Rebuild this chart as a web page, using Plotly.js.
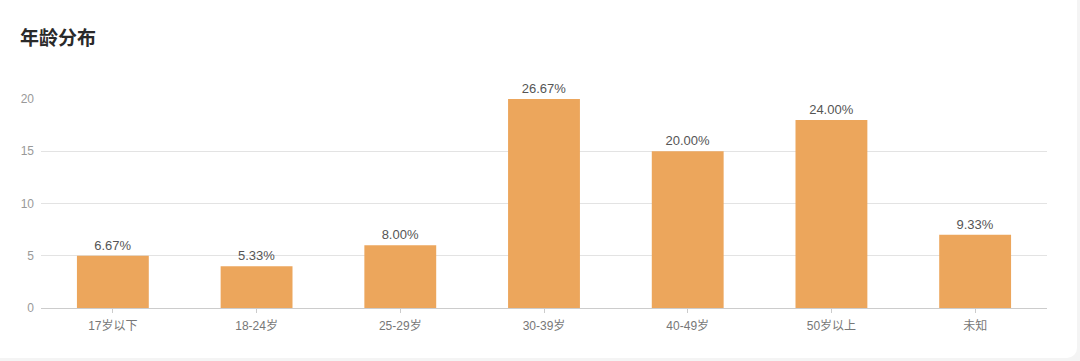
<!DOCTYPE html>
<html>
<head>
<meta charset="utf-8">
<script src="https://cdn.plot.ly/plotly-3.0.1.min.js"></script>
<style>
html,body{margin:0;padding:0;background:#f4f4f4;width:1080px;height:361px;overflow:hidden;}
#card{position:absolute;left:0;top:0;width:1077px;height:358px;background:#fff;border-radius:0 0 10px 0;}
#chart{position:absolute;left:0;top:0;width:1080px;height:361px;}
</style>
</head>
<body>
<div id="card"></div>
<div id="chart"></div>
<script>
const categories = ['17岁以下','18-24岁','25-29岁','30-39岁','40-49岁','50岁以上','未知'];
const counts = [5, 4, 6, 20, 15, 18, 7];
const percentLabels = ['6.67%','5.33%','8.00%','26.67%','20.00%','24.00%','9.33%'];
const yTicks = [0, 5, 10, 15, 20];

const font = '"Liberation Sans", Arial, "Noto Sans CJK SC", sans-serif';
const titleFont = '"Noto Sans CJK SC", sans-serif';

Plotly.newPlot('chart', [{
  type: 'bar',
  x: categories,
  y: counts,
  text: percentLabels,
  textposition: 'outside',
  cliponaxis: false,
  textfont: {family: font, size: 13, color: '#555'},
  marker: {color: '#eca65c'},
  hoverinfo: 'none'
}], {
  width: 1080, height: 361,
  margin: {l: 41, r: 33, t: 99, b: 53},
  paper_bgcolor: 'rgba(0,0,0,0)',
  plot_bgcolor: 'rgba(0,0,0,0)',
  bargap: 0.5,
  showlegend: false,
  title: {text: '年龄分布', x: 0.0185, xanchor: 'left', y: 0.895, yanchor: 'middle',
          font: {family: titleFont, size: 19, color: '#2a2a2a', weight: 'bold'}},
  xaxis: {
    type: 'category',
    showline: true, linecolor: '#ccc', linewidth: 1,
    ticks: 'outside', ticklen: 4, tickcolor: '#ccc',
    ticklabelstandoff: 3,
    tickfont: {family: font, size: 12, color: '#777'},
    showgrid: false, zeroline: false
  },
  yaxis: {
    range: [0, 20],
    tickvals: yTicks,
    ticktext: yTicks.map(String),
    showgrid: true, gridcolor: '#e3e3e3', gridwidth: 1,
    zeroline: false, showline: false,
    ticks: '', ticklabelstandoff: 6,
    tickfont: {family: font, size: 12, color: '#999'}
  }
}, {displayModeBar: false, staticPlot: true});
</script>
</body>
</html>
